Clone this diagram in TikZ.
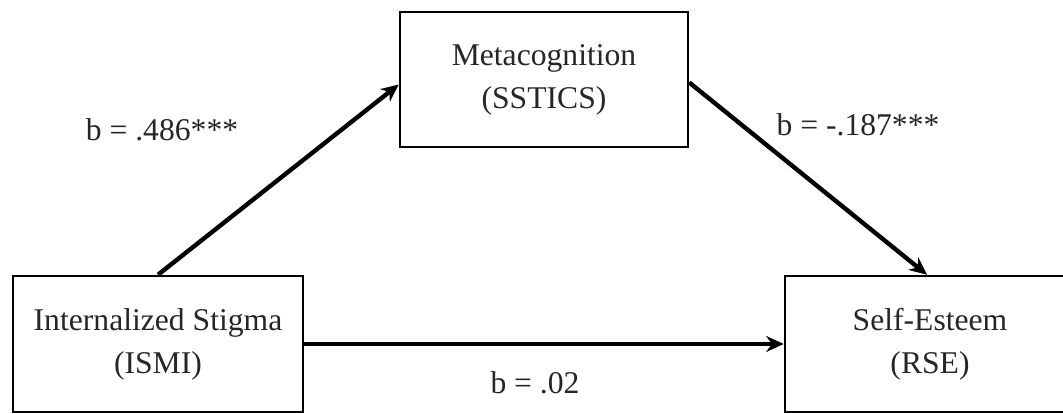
\documentclass[tikz,border=0pt]{standalone}
\usepackage{fontspec}
\setmainfont{Liberation Serif}
\usepackage{tikz}
\usetikzlibrary{positioning, arrows.meta}

\begin{document}
\begin{tikzpicture}[
        var/.style={draw=black, rectangle, minimum width=2.9cm, minimum height=1.36cm, align=center, line width=0.7pt, text=black!85},
        coef/.style={text=black!85},
        arrow/.style={-{Stealth[length=5pt, width=4.5pt]}, line width=1.25pt},
        font=\fontsize{9}{12.2}\selectfont
    ]
    \useasboundingbox (0,0) rectangle (10.63,4.14);
    % Nodes
    \node[var] (ismi) at (1.58, 0.70) {Internalized Stigma \\ (ISMI)};
    \node[var, minimum width=2.88cm, minimum height=1.35cm] (sstics) at (5.44, 3.345) {Metacognition \\ (SSTICS)};
    \node[var] (rse) at (9.30, 0.70) {Self-Esteem \\ (RSE)};

    % Coefficients
    \node[coef] (ab) at (1.62, 2.84) {b = .486***};
    \node[coef] (bc) at (8.58, 2.89) {b = -.187***};
    \node[coef] (ac) at (5.35, 0.31) {b = .02};

    % Paths
    \draw[arrow] (ismi.north) -- ([yshift=-0.5mm]sstics.west);
    \draw[arrow] ([yshift=-0.3mm]sstics.east) -- ([xshift=-0.3mm]rse.north);
    \draw[arrow] (ismi.east) -- (rse.west);
\end{tikzpicture}
\end{document}
